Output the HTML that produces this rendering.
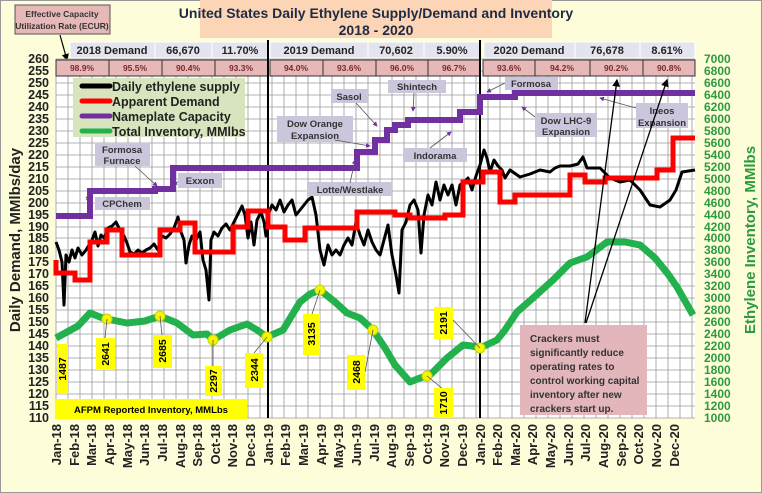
<!DOCTYPE html>
<html><head><meta charset="utf-8"><style>
html,body{margin:0;padding:0;background:#fff}
svg{display:block;font-family:"Liberation Sans",sans-serif}
</style></head><body>
<svg width="762" height="493" viewBox="0 0 762 493" xmlns="http://www.w3.org/2000/svg">
<defs>
<marker id="ah" markerWidth="6" markerHeight="6" refX="5" refY="3" orient="auto"><path d="M0,0 L6,3 L0,6 z" fill="#7030a0"/></marker>
<marker id="ak" markerWidth="6" markerHeight="6" refX="5" refY="3" orient="auto"><path d="M0,0 L6,3 L0,6 z" fill="#000"/></marker>
</defs>
<rect x="0.5" y="0.5" width="761" height="492" fill="#fdfdd9" stroke="#999"/>
<rect x="200" y="0" width="352" height="38" fill="#fbd5b5"/>
<text x="376" y="18" font-size="14" font-weight="bold" text-anchor="middle" fill="#1f2a44">United States Daily Ethylene Supply/Demand and Inventory</text>
<text x="376" y="35" font-size="14" font-weight="bold" text-anchor="middle" fill="#1f2a44">2018 - 2020</text>
<rect x="15" y="5" width="95" height="29" fill="#e6b8b7" stroke="#555"/>
<text x="62" y="17" font-size="8.5" font-weight="bold" text-anchor="middle" fill="#333">Effective Capacity</text>
<text x="62" y="29" font-size="8.5" font-weight="bold" text-anchor="middle" fill="#333">Utilization Rate (ECUR)</text>
<line x1="60" y1="35" x2="67" y2="60" stroke="#000" stroke-width="1.2" marker-end="url(#ak)"/>
<rect x="56" y="59" width="639" height="359" fill="#fff"/>
<g stroke="#9a9a9a" stroke-width="0.8">
<path d="M56,59H695M56,71H695M56,83H695M56,95H695M56,107H695M56,119H695M56,131H695M56,143H695M56,155H695M56,167H695M56,179H695M56,191H695M56,203H695M56,215H695M56,227H695M56,238H695M56,250H695M56,262H695M56,274H695M56,286H695M56,298H695M56,310H695M56,322H695M56,334H695M56,346H695M56,358H695M56,370H695M56,382H695M56,394H695M56,406H695M56,418H695"/>
<path d="M56,59V418M68,59V418M80,59V418M92,59V418M104,59V418M116,59V418M128,59V418M140,59V418M152,59V418M164,59V418M176,59V418M188,59V418M200,59V418M212,59V418M224,59V418M236,59V418M248,59V418M260,59V418M272,59V418M284,59V418M296,59V418M308,59V418M320,59V418M332,59V418M344,59V418M356,59V418M368,59V418M380,59V418M392,59V418M404,59V418M416,59V418M428,59V418M440,59V418M452,59V418M464,59V418M476,59V418M488,59V418M500,59V418M512,59V418M524,59V418M536,59V418M548,59V418M560,59V418M572,59V418M584,59V418M596,59V418M608,59V418M620,59V418M632,59V418M644,59V418M656,59V418M668,59V418M680,59V418M692,59V418"/>
</g>
<g font-size="11" font-weight="bold" fill="#222" text-anchor="middle">
<rect x="70" y="42" width="85" height="16" fill="#e4e4ee" stroke="#fff"/><text x="112" y="54">2018 Demand</text>
<rect x="155" y="42" width="57" height="16" fill="#e4e4ee" stroke="#fff"/><text x="183" y="54">66,670</text>
<rect x="212" y="42" width="56" height="16" fill="#e4e4ee" stroke="#fff"/><text x="240" y="54">11.70%</text>
<rect x="270" y="42" width="98" height="16" fill="#e4e4ee" stroke="#fff"/><text x="319" y="54">2019 Demand</text>
<rect x="368" y="42" width="56" height="16" fill="#e4e4ee" stroke="#fff"/><text x="396" y="54">70,602</text>
<rect x="424" y="42" width="56" height="16" fill="#e4e4ee" stroke="#fff"/><text x="452" y="54">5.90%</text>
<rect x="484" y="42" width="91" height="16" fill="#e4e4ee" stroke="#fff"/><text x="529" y="54">2020 Demand</text>
<rect x="575" y="42" width="65" height="16" fill="#e4e4ee" stroke="#fff"/><text x="607" y="54">76,678</text>
<rect x="640" y="42" width="55" height="16" fill="#e4e4ee" stroke="#fff"/><text x="667" y="54">8.61%</text>
</g>
<g font-size="8.5" font-weight="bold" fill="#7a2a30" text-anchor="middle" stroke-width="1">
<g fill="#e6b8b7" stroke="#333">
<rect x="56" y="60" width="53" height="16"/><rect x="109" y="60" width="53" height="16"/><rect x="162" y="60" width="53" height="16"/><rect x="215" y="60" width="53" height="16"/>
<rect x="270" y="60" width="53" height="16"/><rect x="323" y="60" width="53" height="16"/><rect x="376" y="60" width="52" height="16"/><rect x="428" y="60" width="52" height="16"/>
<rect x="483" y="60" width="52" height="16"/><rect x="535" y="60" width="55" height="16"/><rect x="590" y="60" width="53" height="16"/><rect x="643" y="60" width="52" height="16"/>
</g>
<text x="82" y="71">98.9%</text><text x="135" y="71">95.5%</text><text x="188" y="71">90.4%</text><text x="241" y="71">93.3%</text>
<text x="296" y="71">94.0%</text><text x="349" y="71">93.6%</text><text x="402" y="71">96.0%</text><text x="454" y="71">96.7%</text>
<text x="509" y="71">93.6%</text><text x="562" y="71">94.2%</text><text x="616" y="71">90.2%</text><text x="669" y="71">90.8%</text>
</g>
<line x1="268" y1="40" x2="268" y2="418" stroke="#000" stroke-width="2"/>
<line x1="480" y1="40" x2="480" y2="418" stroke="#000" stroke-width="2"/>
<path d="M56,216H90V191H155V189H173V168H357V152H375V140H387V130H395V125H408V120H460V112H480V97H515V93H695" fill="none" stroke="#7030a0" stroke-width="6"/>
<polyline fill="none" stroke="#22b14c" stroke-width="7" stroke-linejoin="round" points="56,338 67,332 78,326 90,313 100,317 107,319 127,323 145,321 160,316 177,323 193,335 207,334 213,340 230,330 247,324 257,330 267,337 283,330 300,302 310,294 320,290 335,302 347,313 360,318 373,330 385,348 395,365 410,382 420,378 430,375 447,358 463,345 472,346 480,348 497,340 505,330 517,312 533,298 553,280 570,263 587,257 607,242 625,242 640,245 655,258 668,274 677,287 693,315"/>
<polyline fill="none" stroke="#000" stroke-width="3" stroke-linejoin="round" points="56,242 59,250 62,262 64,305 66,255 69,262 72,250 75,258 78,248 82,255 86,250 89,245 92,240 95,232 98,246 101,235 104,238 108,228 112,226 116,222 120,230 124,236 127,243 130,252 134,254 138,250 142,253 146,250 150,248 154,244 158,250 162,236 166,238 170,234 174,228 178,217 181,232 184,240 186,263 189,245 192,236 196,240 200,232 203,260 206,270 209,300 211,240 214,232 218,236 222,228 226,224 230,230 234,222 238,214 242,206 245,215 248,238 251,222 254,245 257,220 261,212 264,222 266,236 268,215 272,205 276,210 280,200 284,212 288,205 292,200 296,215 300,210 304,205 308,200 312,197 316,215 320,250 324,265 328,245 332,255 336,250 340,255 344,245 348,238 352,245 356,222 360,235 364,245 368,230 372,242 376,250 380,255 384,240 388,225 392,255 396,275 399,293 402,230 406,222 410,205 414,200 418,210 421,253 424,215 428,195 432,205 436,182 440,200 444,185 448,195 452,185 456,205 460,185 464,182 468,178 472,190 476,176 480,165 484,150 487,158 490,172 494,160 498,166 502,170 505,178 510,170 520,177 530,174 540,170 550,172 555,168 560,166 570,166 578,164 583,157 587,168 600,168 610,178 620,182 630,180 640,190 650,205 660,207 670,200 676,190 682,172 695,170"/>
<path d="M56,260V273H75V280H90V242H107V230H122V255H160V230H180V223H195V252H233V227H248V211H268V227H285V240H305V228H357V212H395V215H410V218H445V215H463V182H483V172H500V202H515V195H570V175H585V182H605V178H657V170H673V138H695" fill="none" stroke="#ff0000" stroke-width="5"/>
<g fill="#f5f500" stroke="#c8d400" stroke-width="1">
<circle cx="107" cy="319" r="5"/><circle cx="160" cy="316" r="5"/><circle cx="213" cy="340" r="5"/><circle cx="267" cy="337" r="5"/><circle cx="320" cy="290" r="5"/><circle cx="373" cy="330" r="5"/><circle cx="427" cy="376" r="5"/><circle cx="480" cy="348" r="5"/>
</g>
<g stroke="#555" stroke-width="0.8" fill="none">
<path d="M107,319L105,338M160,316L162,335M213,340L213,367M267,337L254,353M320,290L312,314M373,330L365,372H361M427,376L443,389M480,348L453,320H446"/>
</g>
<g fill="#ffff00">
<rect x="57" y="344" width="11" height="50"/><rect x="96" y="338" width="19" height="32"/><rect x="153" y="335" width="19" height="33"/><rect x="205" y="366" width="17" height="30"/><rect x="245" y="353" width="18" height="35"/><rect x="303" y="314" width="17" height="41"/><rect x="347" y="355" width="18" height="35"/><rect x="434" y="307" width="19" height="32"/><rect x="434" y="388" width="19" height="30"/>
<rect x="55" y="399" width="192" height="20"/>
</g>
<g font-size="10.5" font-weight="bold" fill="#000" text-anchor="middle">
<text transform="translate(66,369) rotate(-90)">1487</text>
<text transform="translate(109,354) rotate(-90)">2641</text>
<text transform="translate(166,351) rotate(-90)">2685</text>
<text transform="translate(217,381) rotate(-90)">2297</text>
<text transform="translate(258,370) rotate(-90)">2344</text>
<text transform="translate(315,334) rotate(-90)">3135</text>
<text transform="translate(360,372) rotate(-90)">2468</text>
<text transform="translate(447,323) rotate(-90)">2191</text>
<text transform="translate(447,403) rotate(-90)">1710</text>
<text x="151" y="413" font-size="9.5">AFPM Reported Inventory, MMLbs</text>
</g>
<rect x="73" y="78" width="172" height="59" fill="#d7e4bd"/>
<g stroke-width="5" stroke-linecap="round">
<line x1="82" y1="86" x2="110" y2="86" stroke="#000"/>
<line x1="82" y1="101" x2="110" y2="101" stroke="#ff0000"/>
<line x1="82" y1="116" x2="110" y2="116" stroke="#7030a0"/>
<line x1="82" y1="131" x2="110" y2="131" stroke="#22b14c"/>
</g>
<g font-size="12.5" font-weight="bold" fill="#222">
<text x="112" y="91">Daily ethylene supply</text>
<text x="112" y="106">Apparent Demand</text>
<text x="112" y="121">Nameplate Capacity</text>
<text x="112" y="136">Total Inventory, MMlbs</text>
</g>
<g fill="#ccc6dd">
<rect x="95" y="143" width="55" height="23"/><rect x="95" y="197" width="55" height="13"/><rect x="178" y="173" width="44" height="15"/>
<rect x="307" y="182" width="85" height="14"/><rect x="277" y="116" width="76" height="26"/><rect x="331" y="89" width="37" height="14"/>
<rect x="388" y="80" width="58" height="13"/><rect x="505" y="77" width="53" height="13"/><rect x="403" y="148" width="64" height="14"/>
<rect x="535" y="113" width="62" height="24"/><rect x="636" y="103" width="52" height="25"/>
</g>
<g font-size="9.5" font-weight="bold" fill="#333" text-anchor="middle">
<text x="122" y="153">Formosa</text><text x="122" y="164">Furnace</text>
<text x="122" y="207">CPChem</text><text x="200" y="184">Exxon</text>
<text x="350" y="193">Lotte/Westlake</text>
<text x="315" y="127">Dow Orange</text><text x="315" y="139">Expansion</text>
<text x="349" y="100">Sasol</text><text x="417" y="90">Shintech</text><text x="531" y="87">Formosa</text>
<text x="435" y="159">Indorama</text>
<text x="566" y="124">Dow LHC-9</text><text x="566" y="135">Expansion</text>
<text x="662" y="114">Ineos</text><text x="662" y="126">Expansion</text>
</g>
<g stroke="#555" stroke-width="0.8" marker-end="url(#ah)">
<line x1="135" y1="166" x2="157" y2="186"/>
<line x1="86" y1="200" x2="90" y2="196"/>
<line x1="178" y1="182" x2="173" y2="184"/>
<line x1="350" y1="183" x2="355" y2="160"/>
<line x1="335" y1="140" x2="370" y2="146"/>
<line x1="356" y1="103" x2="377" y2="126"/>
<line x1="414" y1="93" x2="413" y2="111"/>
<line x1="430" y1="148" x2="451" y2="132"/>
<line x1="505" y1="83" x2="487" y2="92"/>
<line x1="535" y1="117" x2="522" y2="107"/>
<line x1="636" y1="108" x2="600" y2="98"/>
</g>
<rect x="520" y="325" width="127" height="90" fill="#e2b6bb"/>
<g font-size="10" font-weight="bold" fill="#333">
<text x="530" y="342">Crackers must</text>
<text x="530" y="356">significantly  reduce</text>
<text x="530" y="370">operating rates to</text>
<text x="530" y="384">control working capital</text>
<text x="530" y="398">inventory after new</text>
<text x="530" y="412">crackers  start up.</text>
</g>
<g stroke="#000" stroke-width="1.3" marker-end="url(#ak)">
<line x1="585" y1="323" x2="617" y2="80"/>
<line x1="586" y1="323" x2="667" y2="80"/>
</g>
<g font-size="12.5" font-weight="bold" fill="#222" text-anchor="end">
<text x="49" y="63">260</text><text x="49" y="75">255</text><text x="49" y="87">250</text><text x="49" y="99">245</text><text x="49" y="111">240</text><text x="49" y="123">235</text><text x="49" y="135">230</text><text x="49" y="147">225</text><text x="49" y="159">220</text><text x="49" y="171">215</text><text x="49" y="183">210</text><text x="49" y="195">205</text><text x="49" y="207">200</text><text x="49" y="219">195</text><text x="49" y="231">190</text><text x="49" y="242">185</text><text x="49" y="254">180</text><text x="49" y="266">175</text><text x="49" y="278">170</text><text x="49" y="290">165</text><text x="49" y="302">160</text><text x="49" y="314">155</text><text x="49" y="326">150</text><text x="49" y="338">145</text><text x="49" y="350">140</text><text x="49" y="362">135</text><text x="49" y="374">130</text><text x="49" y="386">125</text><text x="49" y="398">120</text><text x="49" y="410">115</text><text x="49" y="422">110</text>
</g>
<text transform="translate(20,240) rotate(-90)" font-size="15" font-weight="bold" fill="#222" text-anchor="middle">Daily Demand, MMlbs/day</text>
<g font-size="12" font-weight="bold" fill="#2e9a3e" text-anchor="start">
<text x="704" y="63">7000</text><text x="704" y="75">6800</text><text x="704" y="87">6600</text><text x="704" y="99">6400</text><text x="704" y="111">6200</text><text x="704" y="123">6000</text><text x="704" y="135">5800</text><text x="704" y="147">5600</text><text x="704" y="159">5400</text><text x="704" y="171">5200</text><text x="704" y="183">5000</text><text x="704" y="195">4800</text><text x="704" y="207">4600</text><text x="704" y="219">4400</text><text x="704" y="231">4200</text><text x="704" y="242">4000</text><text x="704" y="254">3800</text><text x="704" y="266">3600</text><text x="704" y="278">3400</text><text x="704" y="290">3200</text><text x="704" y="302">3000</text><text x="704" y="314">2800</text><text x="704" y="326">2600</text><text x="704" y="338">2400</text><text x="704" y="350">2200</text><text x="704" y="362">2000</text><text x="704" y="374">1800</text><text x="704" y="386">1600</text><text x="704" y="398">1400</text><text x="704" y="410">1200</text><text x="704" y="422">1000</text>
</g>
<text transform="translate(755,240) rotate(-90)" font-size="15" font-weight="bold" fill="#2e9a3e" text-anchor="middle">Ethylene Inventory, MMlbs</text>
<g font-size="13" font-weight="bold" fill="#222" text-anchor="end">
<text transform="translate(61,424) rotate(-90)">Jan-18</text>
<text transform="translate(79,424) rotate(-90)">Feb-18</text>
<text transform="translate(96,424) rotate(-90)">Mar-18</text>
<text transform="translate(114,424) rotate(-90)">Apr-18</text>
<text transform="translate(132,424) rotate(-90)">May-18</text>
<text transform="translate(149,424) rotate(-90)">Jun-18</text>
<text transform="translate(167,424) rotate(-90)">Jul-18</text>
<text transform="translate(185,424) rotate(-90)">Aug-18</text>
<text transform="translate(202,424) rotate(-90)">Sep-18</text>
<text transform="translate(220,424) rotate(-90)">Oct-18</text>
<text transform="translate(237,424) rotate(-90)">Nov-18</text>
<text transform="translate(255,424) rotate(-90)">Dec-18</text>
<text transform="translate(273,424) rotate(-90)">Jan-19</text>
<text transform="translate(290,424) rotate(-90)">Feb-19</text>
<text transform="translate(308,424) rotate(-90)">Mar-19</text>
<text transform="translate(326,424) rotate(-90)">Apr-19</text>
<text transform="translate(343,424) rotate(-90)">May-19</text>
<text transform="translate(361,424) rotate(-90)">Jun-19</text>
<text transform="translate(379,424) rotate(-90)">Jul-19</text>
<text transform="translate(396,424) rotate(-90)">Aug-19</text>
<text transform="translate(414,424) rotate(-90)">Sep-19</text>
<text transform="translate(432,424) rotate(-90)">Oct-19</text>
<text transform="translate(449,424) rotate(-90)">Nov-19</text>
<text transform="translate(467,424) rotate(-90)">Dec-19</text>
<text transform="translate(485,424) rotate(-90)">Jan-20</text>
<text transform="translate(502,424) rotate(-90)">Feb-20</text>
<text transform="translate(520,424) rotate(-90)">Mar-20</text>
<text transform="translate(537,424) rotate(-90)">Apr-20</text>
<text transform="translate(555,424) rotate(-90)">May-20</text>
<text transform="translate(573,424) rotate(-90)">Jun-20</text>
<text transform="translate(590,424) rotate(-90)">Jul-20</text>
<text transform="translate(608,424) rotate(-90)">Aug-20</text>
<text transform="translate(626,424) rotate(-90)">Sep-20</text>
<text transform="translate(643,424) rotate(-90)">Oct-20</text>
<text transform="translate(661,424) rotate(-90)">Nov-20</text>
<text transform="translate(679,424) rotate(-90)">Dec-20</text>
</g>
</svg>
</body></html>
